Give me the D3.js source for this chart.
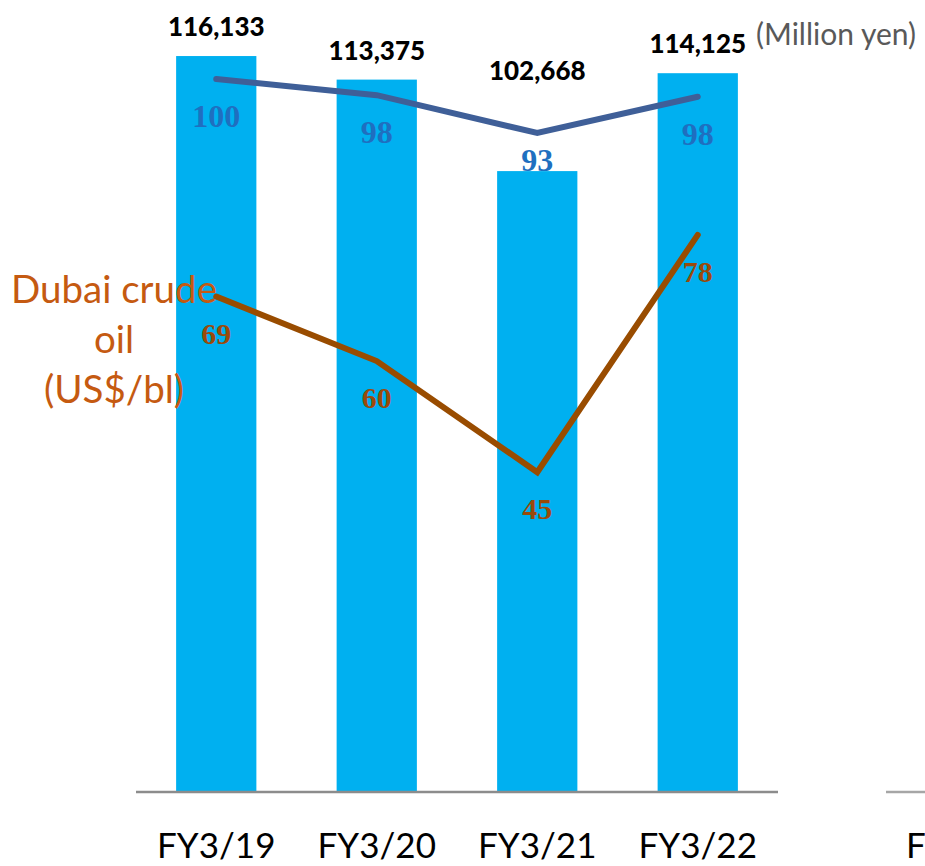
<!DOCTYPE html>
<html>
<head>
<meta charset="utf-8">
<script src="https://cdn.jsdelivr.net/npm/d3@7"></script>
<style>
  body { margin: 0; background: #fff; }
  svg { display: block; }
</style>
</head>
<body>
<div id="chart"></div>
<script>
// chart data
const years = ["FY3/19", "FY3/20", "FY3/21", "FY3/22"]
const sales = [116133, 113375, 102668, 114125]
const salesIndex = [100, 97.9, 93.0, 97.7]
const crudeOil = [69.1, 60.1, 44.6, 77.7]

const WIDTH = 925
const HEIGHT = 866
const BASE = 792

const svg = d3.select("#chart")
    .append("svg")
    .attr("width", WIDTH)
    .attr("height", HEIGHT)

// scales
const x = d3.scaleBand()
    .domain(years)
    .range([136, 778])
    .paddingInner(0.5)
    .paddingOuter(0.25)

const y = d3.scaleLinear()
    .domain([30000, 120000])
    .range([BASE, 23])

const yIndex = d3.scaleLinear()
    .domain([0, 100])
    .range([850, 79])

const yCrude = d3.scaleLinear()
    .domain([0, 100])
    .range([BASE, 75])

const data = years.map((d, i) => ({
    year: d, sales: sales[i], index: salesIndex[i], crude: crudeOil[i]
}))

// bars
svg.append("g")
    .selectAll("rect")
    .data(data)
    .enter()
    .append("rect")
    .attr("x", d => x(d.year))
    .attr("y", d => y(d.sales))
    .attr("width", x.bandwidth())
    .attr("height", d => BASE - y(d.sales))
    .attr("fill", "#00B0F0")

// x axis
const xAxisGroup = svg.append("g")
    .attr("transform", "translate(0," + BASE + ")")
    .call(d3.axisBottom(x).tickSize(0).tickPadding(41))

xAxisGroup.select(".domain")
    .attr("stroke", "#8c8c8c")
    .attr("stroke-width", 2.5)
    .attr("d", "M136,0H778")

xAxisGroup.selectAll("text")
    .attr("font-family", "Lato, sans-serif")
    .attr("font-size", 35)
    .attr("fill", "#000")
    .attr("dy", "0.71em")

// the next panel starts at the right edge
svg.append("line")
    .attr("x1", 886).attr("x2", WIDTH)
    .attr("y1", BASE).attr("y2", BASE)
    .attr("stroke", "#a6a6a6")
    .attr("stroke-width", 2.5)

svg.append("text")
    .attr("x", 906)
    .attr("y", 858)
    .attr("font-family", "Lato, sans-serif")
    .attr("font-size", 35)
    .text("F")

// series title for the crude line
svg.append("text")
    .attr("x", 114)
    .attr("y", 303)
    .attr("text-anchor", "middle")
    .attr("font-family", "Lato, sans-serif")
    .attr("font-size", 38.5)
    .attr("fill", "#C55A11")
    .selectAll("tspan")
    .data(["Dubai crude", "oil", "(US$/bl)"])
    .enter()
    .append("tspan")
    .attr("x", 114)
    .attr("dy", (d, i) => i === 0 ? 0 : 50)
    .text(d => d)

// lines
const cx = d => x(d.year) + x.bandwidth() / 2

svg.append("path")
    .datum(data)
    .attr("fill", "none")
    .attr("stroke", "#3F5F98")
    .attr("stroke-width", 6)
    .attr("stroke-linecap", "round")
    .attr("d", d3.line().x(cx).y(d => yIndex(d.index)))

svg.append("path")
    .datum(data)
    .attr("fill", "none")
    .attr("stroke", "#994C00")
    .attr("stroke-width", 6)
    .attr("stroke-linecap", "round")
    .attr("d", d3.line().x(cx).y(d => yCrude(d.crude)))

// sales labels, lifted over the index line where it runs above the bar
svg.append("g")
    .selectAll("text")
    .data(data)
    .enter()
    .append("text")
    .attr("x", cx)
    .attr("y", d => yIndex(d.index) < y(d.sales) ? yIndex(d.index) - 53 : y(d.sales) - 20)
    .attr("text-anchor", "middle")
    .attr("font-family", "Lato, sans-serif")
    .attr("font-weight", 900)
    .attr("font-size", 26)
    .attr("fill", "#000")
    .text(d => d3.format(",")(d.sales))

// index labels
svg.append("g")
    .selectAll("text")
    .data(data)
    .enter()
    .append("text")
    .attr("x", cx)
    .attr("y", d => yIndex(d.index) < y(d.sales) ? y(d.sales) : yIndex(d.index) + 48)
    .attr("text-anchor", "middle")
    .attr("font-family", "'Liberation Serif', serif")
    .attr("font-weight", "bold")
    .attr("font-size", 32)
    .attr("fill", "#1F6FC0")
    .text(d => d3.format(".0f")(d.index))

// crude labels
svg.append("g")
    .selectAll("text")
    .data(data)
    .enter()
    .append("text")
    .attr("x", cx)
    .attr("y", d => yCrude(d.crude) + 47)
    .attr("text-anchor", "middle")
    .attr("font-family", "'Liberation Serif', serif")
    .attr("font-weight", "bold")
    .attr("font-size", 30)
    .attr("fill", "#9A4A0A")
    .text(d => d3.format(".0f")(d.crude))

// unit note
svg.append("text")
    .attr("x", 756)
    .attr("y", 45)
    .attr("font-family", "Lato, sans-serif")
    .attr("font-size", 30)
    .attr("fill", "#595959")
    .text("(Million yen)")
</script>
</body>
</html>
